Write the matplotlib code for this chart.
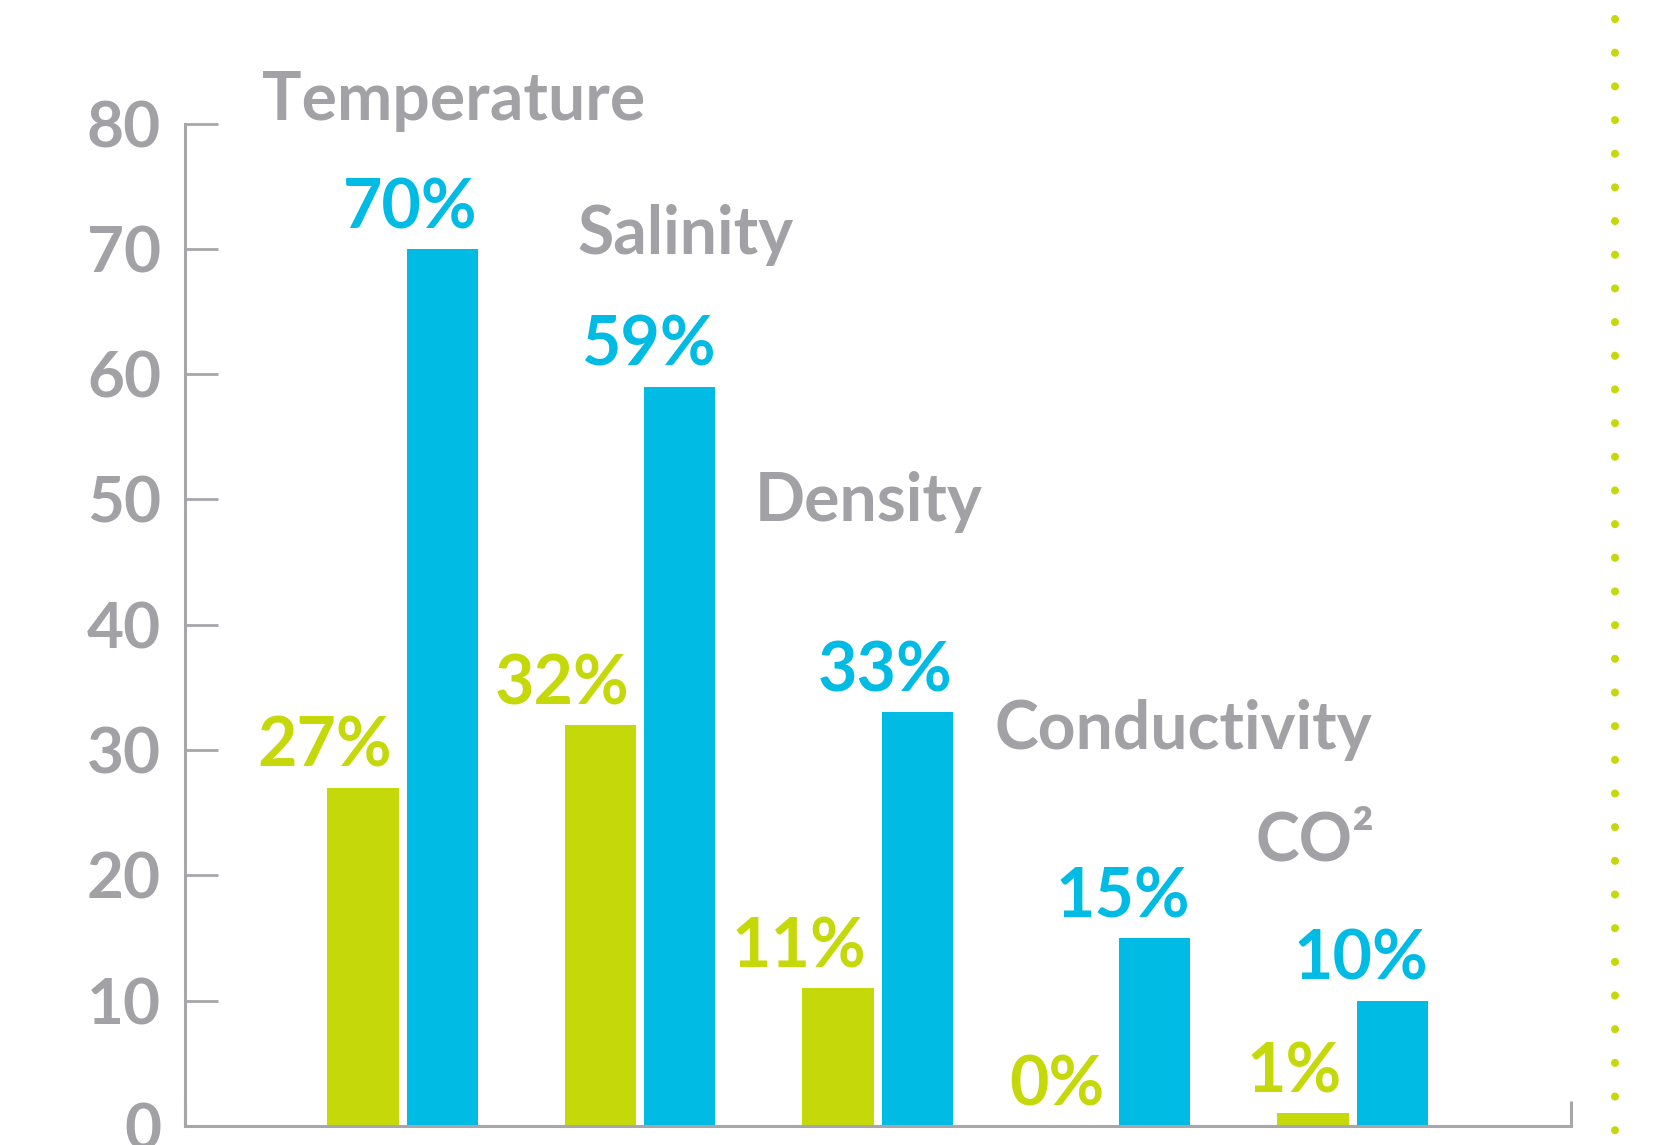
import numpy as np
import matplotlib
matplotlib.use('Agg')
import matplotlib.pyplot as plt
from matplotlib.lines import Line2D

plt.rcParams['font.family'] = ['Lato', 'DejaVu Sans']

categories = ['Temperature', 'Salinity', 'Density', 'Conductivity', 'CO²']
green_vals = [27, 32, 11, 0, 1]
blue_vals = [70, 59, 33, 15, 10]
y_ticks = [0, 10, 20, 30, 40, 50, 60, 70, 80]

# where the category names sit (data coords, left/baseline)
cat_pos = [(-0.593, 80.3), (0.736, 69.6), (1.482, 48.3), (2.491, 30.1), (3.593, 21.2)]

GREEN = '#c5d90a'
BLUE = '#00bbe4'
GRAY = '#a2a2a6'
AXIS = '#a7a7ab'

fig = plt.figure(figsize=(16.55, 11.45), dpi=100)
ax = fig.add_axes([0.1116, 0.0166, 0.8374, 0.8755])

x = np.arange(len(categories))
w = 0.30
off = 0.1667
ax.bar(x - off, green_vals, width=w, color=GREEN)
ax.bar(x + off, blue_vals, width=w, color=BLUE)

for i in range(len(categories)):
    ax.annotate(f'{green_vals[i]}%', xy=(x[i] - off + w / 2, green_vals[i]),
                xytext=(-5, 15), textcoords='offset points', ha='right', va='baseline',
                fontsize=49, fontweight='bold', color=GREEN)
    ax.annotate(f'{blue_vals[i]}%', xy=(x[i] + off + w / 2, blue_vals[i]),
                xytext=(0, 15), textcoords='offset points', ha='right', va='baseline',
                fontsize=49, fontweight='bold', color=BLUE)
    ax.text(cat_pos[i][0], cat_pos[i][1], categories[i], ha='left', va='baseline',
            fontsize=47.5, fontweight='bold', color=GRAY)

ax.set_xlim(-0.918, 4.918)
ax.set_ylim(0, 80)
ax.set_yticks(y_ticks)
ax.set_yticklabels([str(t) for t in y_ticks], fontsize=46, fontweight='bold', color=GRAY)
ax.set_xticks([-0.918, 4.918])
ax.set_xticklabels(['', ''])

for s in ['top', 'right']:
    ax.spines[s].set_visible(False)
for s in ['left', 'bottom']:
    ax.spines[s].set_color(AXIS)
    ax.spines[s].set_linewidth(2.2)
ax.tick_params(axis='y', direction='in', length=24, width=2, color=AXIS, pad=17)
ax.tick_params(axis='x', direction='in', length=18, width=2.2, color=AXIS)

# dotted divider on the right
fig.add_artist(Line2D([0.9758, 0.9758], [1 - 19 / 1145, -0.01], transform=fig.transFigure,
                      color=GREEN, lw=5.8, linestyle=(0, (0.01, 4.17)),
                      dash_capstyle='round'))

fig.savefig('out.png', dpi=100)
